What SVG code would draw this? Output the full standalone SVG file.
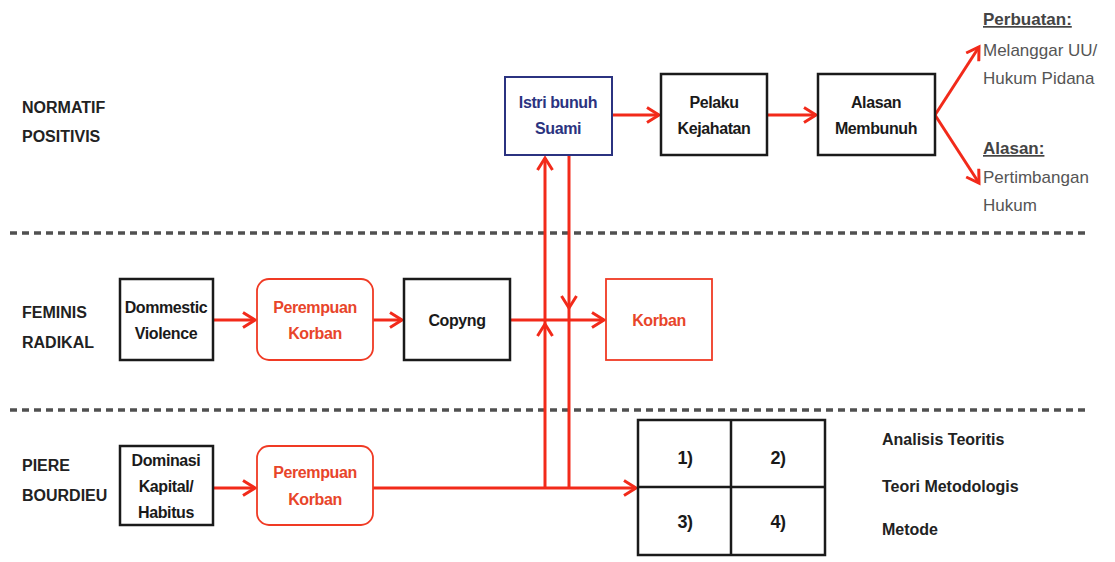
<svg xmlns="http://www.w3.org/2000/svg" width="1115" height="562" viewBox="0 0 1115 562">
<style>
text{font-family:"Liberation Sans Narrow","Liberation Sans",Arial,sans-serif;font-weight:bold;font-size:16px}
.lbl{fill:#222;text-anchor:start}
.c{text-anchor:middle;letter-spacing:-0.4px}
.bk{fill:#fff;stroke:#1a1a1a;stroke-width:2.5}
.rd{fill:#fff;stroke:#f03a24;stroke-width:1.8}
.nv{fill:#fff;stroke:#2b3380;stroke-width:2}
.tb{fill:#1a1a1a}
.tr{fill:#e8452a}
.tn{fill:#2b3380}
.gr{fill:#555;font-weight:normal;font-size:17px}
.gu{fill:#444;text-decoration:underline;font-size:17px}
.dash{stroke:#505050;stroke-width:3.5;stroke-dasharray:7 5}
.ar{stroke:#f22a1a;stroke-width:3;fill:none}
</style>
<defs>
<marker id="ah" markerWidth="16" markerHeight="18" refX="13" refY="9" orient="auto" markerUnits="userSpaceOnUse">
<path d="M1,1.5 L13,9 L1,16.5" fill="none" stroke="#f22a1a" stroke-width="3"/>
</marker>
</defs>
<rect width="1115" height="562" fill="#fff"/>
<g id="separators">
<line class="dash" x1="10" y1="233" x2="1085" y2="233"/>
<line class="dash" x1="10" y1="410" x2="1085" y2="410"/>
</g>
<g id="lane-labels">
<text class="lbl" x="22" y="113">NORMATIF</text>
<text class="lbl" x="22" y="142">POSITIVIS</text>
<text class="lbl" x="22" y="318">FEMINIS</text>
<text class="lbl" x="22" y="348">RADIKAL</text>
<text class="lbl" x="22" y="471">PIERE</text>
<text class="lbl" x="22" y="501">BOURDIEU</text>
</g>
<g id="connectors">
<line class="ar" x1="612" y1="115" x2="659" y2="115" marker-end="url(#ah)"/>
<line class="ar" x1="767" y1="115" x2="816" y2="115" marker-end="url(#ah)"/>
<line class="ar" x1="935" y1="115" x2="979" y2="47" marker-end="url(#ah)"/>
<line class="ar" x1="935" y1="115" x2="979" y2="183" marker-end="url(#ah)"/>
<line class="ar" x1="213" y1="320" x2="255" y2="320" marker-end="url(#ah)"/>
<line class="ar" x1="373" y1="320" x2="402" y2="320" marker-end="url(#ah)"/>
<line class="ar" x1="510" y1="320" x2="604" y2="320" marker-end="url(#ah)"/>
<line class="ar" x1="213" y1="488" x2="255" y2="488" marker-end="url(#ah)"/>
<line class="ar" x1="373" y1="488" x2="636" y2="488" marker-end="url(#ah)"/>
<line class="ar" x1="545" y1="488" x2="545" y2="324" marker-end="url(#ah)"/>
<line class="ar" x1="545" y1="324" x2="545" y2="158" marker-end="url(#ah)"/>
<line class="ar" x1="569" y1="155" x2="569" y2="308" marker-end="url(#ah)"/>
<line class="ar" x1="569" y1="308" x2="569" y2="488"/>
</g>
<g id="istri">
<rect class="nv" x="505" y="77" width="107" height="78"/>
<text class="tn c" x="558" y="108">Istri bunuh</text>
<text class="tn c" x="558" y="134">Suami</text>
</g>
<g id="pelaku">
<rect class="bk" x="661" y="74" width="106" height="81"/>
<text class="tb c" x="714" y="108">Pelaku</text>
<text class="tb c" x="714" y="134">Kejahatan</text>
</g>
<g id="alasan">
<rect class="bk" x="818" y="74" width="117" height="81"/>
<text class="tb c" x="876" y="108">Alasan</text>
<text class="tb c" x="876" y="134">Membunuh</text>
</g>
<g id="perbuatan-note">
<text class="gu" x="983" y="25">Perbuatan:</text>
<text class="gr" x="983" y="56">Melanggar UU/</text>
<text class="gr" x="983" y="84">Hukum Pidana</text>
</g>
<g id="alasan-note">
<text class="gu" x="983" y="154">Alasan:</text>
<text class="gr" x="983" y="183">Pertimbangan</text>
<text class="gr" x="983" y="211">Hukum</text>
</g>
<g id="dommestic">
<rect class="bk" x="120" y="279" width="93" height="81"/>
<text class="tb c" x="166" y="313">Dommestic</text>
<text class="tb c" x="166" y="339">Violence</text>
</g>
<g id="perempuan1">
<rect class="rd" x="257" y="279" width="116" height="81" rx="12"/>
<text class="tr c" x="315" y="313">Perempuan</text>
<text class="tr c" x="315" y="339">Korban</text>
</g>
<g id="copyng">
<rect class="bk" x="404" y="279" width="106" height="81"/>
<text class="tb c" x="457" y="326">Copyng</text>
</g>
<g id="korban">
<rect class="rd" x="606" y="279" width="106" height="81"/>
<text class="tr c" x="659" y="326">Korban</text>
</g>
<g id="dominasi">
<rect class="bk" x="120" y="446" width="93" height="79"/>
<text class="tb c" x="166" y="466">Dominasi</text>
<text class="tb c" x="166" y="492">Kapital/</text>
<text class="tb c" x="166" y="518">Habitus</text>
</g>
<g id="perempuan2">
<rect class="rd" x="257" y="446" width="116" height="79" rx="12"/>
<text class="tr c" x="315" y="478">Perempuan</text>
<text class="tr c" x="315" y="505">Korban</text>
</g>
<g id="grid">
<rect class="bk" x="638" y="420" width="187" height="135"/>
<line x1="731" y1="420" x2="731" y2="555" stroke="#1a1a1a" stroke-width="2.5"/>
<line x1="638" y1="487" x2="825" y2="487" stroke="#1a1a1a" stroke-width="2.5"/>
<text class="tb c" x="685" y="464" style="font-size:18px">1)</text>
<text class="tb c" x="778" y="464" style="font-size:18px">2)</text>
<text class="tb c" x="685" y="528" style="font-size:18px">3)</text>
<text class="tb c" x="778" y="528" style="font-size:18px">4)</text>
</g>
<g id="legend">
<text class="lbl" x="882" y="445">Analisis Teoritis</text>
<text class="lbl" x="882" y="492">Teori Metodologis</text>
<text class="lbl" x="882" y="535">Metode</text>
</g>
</svg>
